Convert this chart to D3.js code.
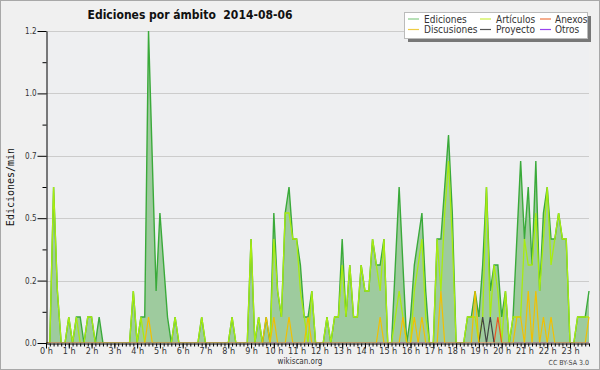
<!DOCTYPE html>
<html>
<head>
<meta charset="utf-8">
<script src="https://cdn.jsdelivr.net/npm/d3@7/dist/d3.min.js"></script>
<style>
  html, body { margin: 0; padding: 0; background: #f0f0f0; }
  svg { display: block; }
  text { font-family: "DejaVu Sans Condensed", "DejaVu Sans", sans-serif; font-stretch: condensed; }
</style>
</head>
<body>
<svg id="chart" width="600" height="370"></svg>
<script>
// ---- data (10-minute bins, 144 per day) ----
const title = "Ediciones por ámbito  2014-08-06";
const yLabel = "Ediciones/min";
const hourLabels = d3.range(24).map(h => h + " h");
const yTickValues = [0, 0.24, 0.48, 0.72, 0.96, 1.2];

const ediciones = [
  0,0,0.6,0.2,0,0,0.1,0,0.1,0.1,
  0,0.1,0.1,0,0.1,0,0,0,0,0,
  0,0,0,0.2,0,0.1,0.1,1.2,0.7,0.2,
  0.5,0.3,0.1,0,0.1,0,0,0,0,0,
  0,0.1,0,0,0,0,0,0,0,0.1,
  0,0,0,0,0.4,0,0.1,0,0.1,0,
  0.5,0.2,0.1,0.5,0.6,0.4,0.4,0.3,0.1,0.1,
  0.2,0,0,0,0.1,0,0.1,0.1,0.4,0.1,
  0.3,0.1,0.1,0.3,0.2,0.2,0.4,0.3,0.3,0.4,
  0,0,0.3,0.6,0.3,0,0.1,0.3,0.4,0.5,
  0.2,0,0,0.4,0.4,0.6,0.8,0.5,0,0,
  0,0.1,0.1,0.2,0.1,0.3,0.6,0.2,0.3,0.3,
  0.1,0.2,0,0.1,0.4,0.7,0.4,0.6,0.3,0.7,
  0.2,0.5,0.6,0.4,0.4,0.5,0.4,0.4,0,0,
  0.1,0.1,0.1,0.2
];
const articulos = [
  0,0,0.6,0.2,0,0,0.1,0,0.1,0,
  0,0.1,0.1,0,0,0,0,0,0,0,
  0,0,0,0.2,0,0.1,0,0,0,0,
  0,0,0,0,0.1,0,0,0,0,0,
  0,0.1,0,0,0,0,0,0,0,0.1,
  0,0,0,0,0.4,0,0.1,0,0,0,
  0.4,0.2,0.1,0.5,0.5,0.4,0.4,0.2,0.1,0,
  0.2,0,0,0,0.1,0,0.1,0.1,0.3,0.1,
  0.3,0.1,0.1,0.3,0.2,0.2,0.4,0.3,0.2,0.4,
  0,0,0.1,0.2,0.1,0,0,0.2,0.3,0.4,
  0.1,0,0,0.4,0.2,0.5,0.7,0.4,0,0,
  0,0.1,0.1,0.1,0,0.1,0.6,0.1,0.3,0.2,
  0,0.2,0,0.1,0.1,0.1,0.4,0.3,0.3,0.5,
  0.2,0.4,0.6,0.3,0.4,0.5,0.4,0.4,0,0,
  0.1,0.1,0.1,0.1
];
const discusiones = [
  0,0,0,0,0,0,0,0,0,0,
  0,0,0,0,0,0,0,0,0,0,
  0,0,0,0,0,0,0,0.1,0,0,
  0,0,0,0,0,0,0,0,0,0,
  0,0,0,0,0,0,0,0,0,0,
  0,0,0,0,0,0,0,0,0.1,0,
  0.1,0,0,0,0.1,0,0,0,0,0.1,
  0,0,0,0,0,0,0,0,0,0,
  0,0,0,0,0,0,0,0,0.1,0,
  0,0,0,0,0.1,0,0,0.1,0,0.1,
  0,0,0,0,0.2,0,0,0,0,0,
  0,0,0,0.2,0,0,0,0,0,0,
  0,0,0,0,0.1,0.1,0,0.2,0,0.2,
  0,0.1,0,0.1,0,0,0,0,0,0,
  0,0,0,0.1
];
const proyecto = d3.range(144).map(i => (i === 115 || i === 117) ? 0.1 : 0);
const anexos = d3.range(144).map(i => (i === 119) ? 0.1 : 0);
const otros = d3.range(144).map(() => 0);

const legendNames = ["Ediciones", "Artículos", "Anexos", "Discusiones", "Proyecto", "Otros"];
const legendColors = ["#88cc88", "#ccee44", "#ee7744", "#eecc44", "#555555", "#9944ee"];

// ---- chart ----
const svg = d3.select("#chart");
const W = 600, H = 370;
const m = { left: 46, right: 589, top: 31, bottom: 343 };

svg.append("rect").attr("x", 0.5).attr("y", 0.5).attr("width", W - 1).attr("height", H - 1)
  .attr("fill", "#f0f0f0").attr("stroke", "#a8a8a8");

const x = d3.scaleLinear().domain([0, 143]).range([m.left, m.right]);
const y = d3.scaleLinear().domain([0, 1.2]).range([m.bottom, m.top]);

svg.append("defs").append("clipPath").attr("id", "plotclip")
  .append("rect").attr("x", m.left).attr("y", 0)
  .attr("width", m.right - m.left + 2).attr("height", m.bottom - 0.4);

svg.append("rect").attr("x", m.left).attr("y", m.top)
  .attr("width", m.right - m.left).attr("height", m.bottom - m.top).attr("fill", "#eeeff1");

// grid
svg.append("g").selectAll("line").data(yTickValues.filter(v => v > 0)).join("line")
  .attr("x1", m.left).attr("x2", m.right)
  .attr("y1", d => Math.round(y(d)) + 0.5).attr("y2", d => Math.round(y(d)) + 0.5)
  .attr("stroke", "#cccccc").attr("stroke-width", 1);

const plot = svg.append("g").attr("clip-path", "url(#plotclip)");

// area of Ediciones
const area = d3.area().x((d, i) => x(i)).y0(y(0)).y1(d => y(d));
plot.append("path").datum(ediciones).attr("d", area)
  .attr("fill", "#9ecb9e").attr("stroke", "none");

const line = d3.line().x((d, i) => x(i)).y(d => y(d));
const series = [
  { data: ediciones, color: "#3aaa3a", w: 1.4 },
  { data: articulos, color: "#a8ec10", w: 1.3 },
  { data: otros, color: "#9944ee", w: 1 },
  { data: anexos, color: "#ee5522", w: 1.2 },
  { data: proyecto, color: "#444444", w: 1.2 },
  { data: discusiones, color: "#f2c000", w: 1.2 }
];
series.forEach(s => {
  plot.append("path").datum(s.data).attr("d", line)
    .attr("fill", "none").attr("stroke", s.color).attr("stroke-width", s.w)
    .attr("stroke-linejoin", "miter");
});

// y axis
const yMinor = d3.range(5).map(k => 0.12 + 0.24 * k);
const yAxisMinor = d3.axisLeft(y).tickValues(yMinor).tickSize(4).tickFormat("");
const yAxis = d3.axisLeft(y).tickValues(yTickValues).tickSize(9).tickSizeOuter(0)
  .tickFormat(d3.format(".1f"));
const gy = svg.append("g").attr("transform", `translate(${m.left + 0.5},0)`).call(yAxis);
gy.select(".domain").attr("stroke", "#000");
gy.selectAll(".tick line").attr("stroke", "#000");
gy.selectAll(".tick text").attr("font-size", 8).attr("fill", "#333").attr("x", -10)
  .style("font-family", '"DejaVu Sans Condensed", "DejaVu Sans", sans-serif');
const gym = svg.append("g").attr("transform", `translate(${m.left + 0.5},0)`).call(yAxisMinor);
gym.select(".domain").remove();
gym.selectAll(".tick line").attr("stroke", "#000");

// x axis
const xAxisMinor = d3.axisBottom(x).tickValues(d3.range(144)).tickSize(3).tickSizeOuter(0).tickFormat("");
const gxm = svg.append("g").attr("transform", `translate(0,${m.bottom + 0.5})`).call(xAxisMinor);
gxm.select(".domain").attr("stroke", "#000");
gxm.selectAll(".tick line").attr("stroke", "#000");
const xAxis = d3.axisBottom(x).tickValues(d3.range(24).map(h => h * 6)).tickSize(5).tickSizeOuter(0)
  .tickFormat((d, i) => hourLabels[i]);
const gx = svg.append("g").attr("transform", `translate(0,${m.bottom + 0.5})`).call(xAxis);
gx.select(".domain").remove();
gx.selectAll(".tick line").attr("stroke", "#000");
gx.selectAll(".tick text").attr("font-size", 9).attr("fill", "#333").attr("y", 4)
  .style("font-family", '"DejaVu Sans Condensed", "DejaVu Sans", sans-serif');

// title
svg.append("text").attr("x", 190).attr("y", 19).attr("text-anchor", "middle")
  .style("white-space", "pre").attr("xml:space", "preserve")
  .attr("font-size", 12).attr("font-weight", "bold").attr("fill", "#111").text(title);

// y label
svg.append("text").attr("transform", `translate(14,187) rotate(-90)`).attr("text-anchor", "middle")
  .style("font-family", '"DejaVu Sans Mono", monospace').style("font-stretch", "normal")
  .attr("font-size", 10).attr("fill", "#111").text(yLabel);

// footer
svg.append("text").attr("x", 300).attr("y", 364).attr("text-anchor", "middle")
  .attr("font-size", 8).attr("fill", "#333").text("wikiscan.org");
svg.append("text").attr("x", 589).attr("y", 365).attr("text-anchor", "end")
  .attr("font-size", 7).attr("fill", "#444").text("CC BY-SA 3.0");

// legend
const lg = svg.append("g");
lg.append("rect").attr("x", 408).attr("y", 16).attr("width", 183).attr("height", 26).attr("fill", "#777");
lg.append("rect").attr("x", 404.5).attr("y", 12.5).attr("width", 183).attr("height", 26)
  .attr("fill", "#ffffff").attr("stroke", "#bbbbbb");
const colX = [408, 480, 540];
const textX = [424, 496, 555];
const rowY = [19, 29.5];
legendNames.forEach((name, k) => {
  const c = k % 3, r = Math.floor(k / 3);
  lg.append("line").attr("x1", colX[c]).attr("x2", colX[c] + 11)
    .attr("y1", rowY[r]).attr("y2", rowY[r]).attr("stroke", legendColors[k]).attr("stroke-width", 1.2);
  lg.append("text").attr("x", textX[c]).attr("y", rowY[r] + 3.5)
    .attr("font-size", 10).attr("fill", "#333").text(name);
});
</script>
</body>
</html>
